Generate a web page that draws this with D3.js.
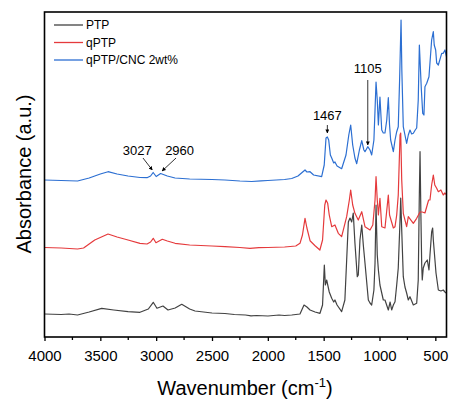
<!DOCTYPE html>
<html>
<head>
<meta charset="utf-8">
<script src="https://cdn.jsdelivr.net/npm/d3@7"></script>
<style>
  body { margin: 0; background: #fff; }
  svg { font-family: "Liberation Sans", Arial, sans-serif; }
</style>
</head>
<body>
<svg id="chart" width="449" height="399"></svg>
<script>
// spectra as [wavenumber (cm-1), absorbance (a.u., stacked)]
const ptp = [
  [4000,0.23],[3850,0.225],[3780,0.23],[3704,0.22],[3600,0.25],[3488,0.287],[3380,0.27],[3252,0.253],[3145,0.247],
  [3070,0.28],[3026,0.347],[2993,0.287],[2939,0.31],[2894,0.27],[2830,0.29],[2771,0.327],[2700,0.28],
  [2652,0.26],[2500,0.24],[2384,0.235],[2300,0.225],[2200,0.22],[2150,0.212],[2100,0.215],[1999,0.21],[1900,0.22],
  [1850,0.215],[1786,0.22],[1712,0.23],[1676,0.32],[1650,0.30],[1622,0.27],[1577,0.25],[1533,0.237],
  [1510,0.32],[1494,0.72],[1485,0.52],[1473,0.57],[1450,0.45],[1428,0.387],[1410,0.35],[1399,0.37],
  [1380,0.32],[1339,0.253],[1310,0.37],[1294,0.77],[1279,1.15],[1264,1.19],[1249,1.15],[1235,1.24],
  [1220,0.94],[1199,0.603],[1190,0.62],[1175,0.97],[1159,1.12],[1145,0.92],[1130,0.74],[1100,0.37],
  [1085,0.34],[1070,0.32],[1050,0.47],[1040,0.74],[1031,1.32],[1020,0.82],[1010,0.67],[996,0.52],
  [980,0.44],[966,0.37],[951,0.37],[921,0.27],[905,0.35],[891,0.27],[876,0.32],[861,0.353],
  [846,0.52],[832,0.69],[816,1.17],[810,1.39],[801,1.07],[787,0.603],[772,0.50],[757,0.44],
  [742,0.37],[727,0.403],[697,0.32],[667,0.337],[653,0.57],[644,1.37],[637,1.853],[630,1.27],
  [622,0.72],[617,0.57],[608,0.69],[593,0.74],[572,0.77],[557,0.67],[548,0.82],[533,1.05],
  [524,1.09],[518,0.97],[494,0.64],[473,0.47],[450,0.46],[429,0.47],[414,0.45],[400,0.437]
];

const qptp = [
  [4000,0.895],[3850,0.89],[3704,0.88],[3650,0.89],[3550,0.97],[3431,1.03],[3350,1.00],[3252,0.97],
  [3145,0.937],[3082,0.93],[3050,0.95],[3026,0.987],[3002,0.943],[2945,0.977],[2900,0.96],[2831,0.937],
  [2700,0.92],[2500,0.91],[2384,0.903],[2250,0.895],[2160,0.887],[2080,0.893],[2000,0.895],[1850,0.90],[1750,0.91],
  [1712,0.937],[1690,1.02],[1667,1.187],[1650,1.09],[1622,0.963],[1577,0.913],[1534,0.87],[1510,0.97],
  [1490,1.32],[1479,1.37],[1464,1.337],[1450,1.22],[1428,1.103],[1399,1.12],[1369,1.037],[1339,1.003],
  [1294,1.203],[1270,1.37],[1258,1.47],[1240,1.32],[1220,1.237],[1190,1.17],[1159,1.253],[1130,1.103],
  [1085,1.07],[1060,1.12],[1040,1.37],[1031,1.603],[1020,1.37],[1010,1.22],[996,1.387],[980,1.103],
  [951,1.09],[930,1.32],[921,1.42],[910,1.22],[876,1.09],[861,1.103],[846,1.22],[832,1.42],
  [816,2.02],[810,2.04],[801,1.57],[787,1.237],[757,1.103],[742,1.203],[697,1.137],[667,1.187],
  [637,1.25],[617,1.25],[593,1.24],[560,1.37],[548,1.37],[533,1.52],[518,1.62],[505,1.52],
  [488,1.487],[473,1.453],[450,1.47],[429,1.42],[414,1.44],[400,1.42]
];

const qptpCnc = [
  [4000,1.57],[3850,1.565],[3704,1.56],[3600,1.59],[3500,1.63],[3431,1.653],[3350,1.63],[3252,1.61],
  [3145,1.595],[3082,1.593],[3050,1.61],[3027,1.645],[3000,1.605],[2960,1.635],[2900,1.61],[2831,1.59],
  [2700,1.58],[2500,1.575],[2384,1.57],[2250,1.56],[2145,1.555],[2060,1.562],[2000,1.565],[1850,1.575],[1786,1.585],
  [1730,1.61],[1667,1.67],[1650,1.65],[1622,1.653],[1590,1.62],[1518,1.603],[1495,1.72],[1479,1.99],
  [1467,2.00],[1455,1.97],[1440,1.82],[1428,1.79],[1410,1.74],[1399,1.75],[1380,1.71],[1339,1.683],
  [1300,1.82],[1275,2.02],[1258,2.12],[1240,1.92],[1220,1.79],[1204,1.733],[1180,1.87],[1159,1.963],
  [1140,1.87],[1130,1.853],[1105,1.903],[1085,1.87],[1070,1.82],[1050,1.97],[1040,2.27],[1031,2.55],
  [1020,2.37],[1010,2.12],[996,2.40],[980,2.07],[966,2.04],[951,2.04],[935,2.17],[921,2.393],
  [910,2.12],[900,1.97],[876,1.853],[861,1.97],[846,2.053],[832,2.103],[820,2.57],[807,3.17],
  [800,2.67],[787,2.103],[772,2.02],[757,1.937],[742,2.02],[727,2.07],[712,2.03],[697,2.037],
  [680,2.07],[667,2.09],[653,2.37],[643,2.92],[625,2.47],[613,2.237],[602,2.22],[593,2.503],
  [577,2.537],[557,2.603],[533,2.97],[518,3.053],[510,2.92],[497,2.87],[488,2.74],[473,2.72],
  [443,2.837],[429,2.837],[414,2.87],[400,2.803]
];

const seriesNames = ["PTP", "qPTP", "qPTP/CNC 2wt%"];
const seriesColors = ["#424242", "#e53a3c", "#2c6fd2"];
const xTicks = [4000, 3500, 3000, 2500, 2000, 1500, 1000, 500];
const xMinorTicks = [3750, 3250, 2750, 2250, 1750, 1250, 750];

// peak labels: [text, label wn, label abs, arrow tail wn, tail abs, tip wn, tip abs]
const peakNotes = [
  ["3027", 3170, 1.82, 3118, 1.79, 3035, 1.67],
  ["2960", 2790, 1.82, 2822, 1.79, 2947, 1.66],
  ["1467", 1467, 2.17, 1467, 2.12, 1467, 2.04],
  ["1105", 1105, 2.64, 1105, 2.57, 1105, 1.92]
];

const svg = d3.select("#chart");
const plot = { left: 44.5, right: 446.5, top: 12, bottom: 337 };

const x = d3.scaleLinear().domain([4000, 400]).range([plot.left, plot.right]);
const y = d3.scaleLinear().domain([0, 3.25]).range([plot.bottom, plot.top]);

svg.append("defs").append("marker")
  .attr("id", "arrow")
  .attr("viewBox", "0 0 10 10")
  .attr("refX", 9).attr("refY", 5)
  .attr("markerWidth", 5).attr("markerHeight", 5)
  .attr("orient", "auto")
  .append("path")
  .attr("d", "M0,0L10,5L0,10z")
  .attr("fill", "#000");

// spectra
const line = d3.line().x(d => x(d[0])).y(d => y(d[1]));
svg.append("g").attr("class", "layer-spectra")
  .selectAll("path")
  .data([ptp, qptp, qptpCnc])
  .join("path")
  .attr("d", line)
  .attr("fill", "none")
  .attr("stroke", (_, i) => seriesColors[i])
  .attr("stroke-width", 1.2)
  .attr("stroke-linejoin", "round");

// frame
svg.append("rect")
  .attr("x", plot.left).attr("y", plot.top)
  .attr("width", plot.right - plot.left).attr("height", plot.bottom - plot.top)
  .attr("fill", "none").attr("stroke", "#000").attr("stroke-width", 1.6);

// bottom axis
const xAxis = svg.append("g")
  .attr("transform", `translate(0,${plot.bottom})`)
  .call(d3.axisBottom(x).tickValues(xTicks).tickSize(4).tickPadding(9).tickFormat(d3.format("d")));
xAxis.select(".domain").remove();
xAxis.selectAll("line").attr("stroke-width", 1.3);
xAxis.selectAll("text").attr("font-size", 15).attr("fill", "#000")
  .attr("font-family", "'Liberation Sans', Arial, sans-serif");

svg.append("g")
  .attr("transform", `translate(0,${plot.bottom})`)
  .selectAll("line")
  .data(xMinorTicks)
  .join("line")
  .attr("x1", d => x(d)).attr("x2", d => x(d))
  .attr("y1", 0).attr("y2", 3)
  .attr("stroke", "#000").attr("stroke-width", 1.3);

// axis titles
const xTitle = svg.append("text")
  .attr("x", 245).attr("y", 395)
  .attr("text-anchor", "middle")
  .attr("font-size", 20);
xTitle.append("tspan").text("Wavenumber (cm");
xTitle.append("tspan").attr("font-size", 13).attr("dy", -8).text("-1");
xTitle.append("tspan").attr("dy", 8).text(")");

svg.append("text")
  .attr("transform", "translate(31,174) rotate(-90)")
  .attr("text-anchor", "middle")
  .attr("font-size", 20)
  .text("Absorbance (a.u.)");

// legend
const legend = svg.append("g").attr("class", "legend")
  .selectAll("g")
  .data(seriesNames)
  .join("g")
  .attr("transform", (_, i) => `translate(54,${25 + i * 17.5})`);
legend.append("line")
  .attr("x1", 0).attr("x2", 29)
  .attr("stroke", (_, i) => seriesColors[i])
  .attr("stroke-width", 1.3);
legend.append("text")
  .attr("x", 32).attr("dy", "0.35em")
  .attr("font-size", 12)
  .text(d => d);

// peak annotations
const notes = svg.append("g").attr("class", "notes")
  .selectAll("g")
  .data(peakNotes)
  .join("g");
notes.append("text")
  .attr("x", d => x(d[1])).attr("y", d => y(d[2]))
  .attr("text-anchor", "middle")
  .attr("font-size", 13)
  .text(d => d[0]);
notes.append("line")
  .attr("x1", d => x(d[3])).attr("y1", d => y(d[4]))
  .attr("x2", d => x(d[5])).attr("y2", d => y(d[6]))
  .attr("stroke", "#000").attr("stroke-width", 0.8)
  .attr("marker-end", "url(#arrow)");
</script>
</body>
</html>
